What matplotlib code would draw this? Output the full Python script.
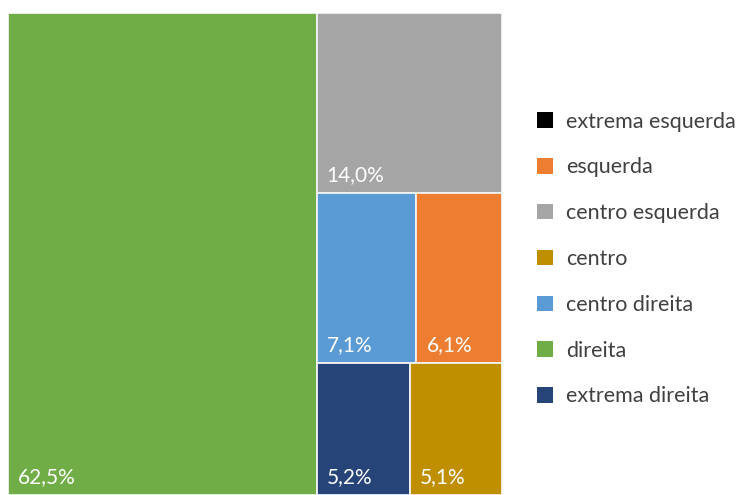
import matplotlib
matplotlib.use("Agg")
import matplotlib.pyplot as plt
from matplotlib.patches import Rectangle, Patch

# Dados
categorias = ['extrema esquerda', 'esquerda', 'centro esquerda', 'centro',
              'centro direita', 'direita', 'extrema direita']
valores = [0.0, 6.1, 14.0, 5.1, 7.1, 62.5, 5.2]
cores = ['#000000', '#ED7D31', '#A5A5A5', '#BF8F00',
         '#5B9BD5', '#70AD47', '#264478']

# tamanho da área do treemap (em pixels)
W, H = 494, 482


def pior(linha, lado):
    s = sum(linha)
    return max(max(lado ** 2 * r / s ** 2, s ** 2 / (lado ** 2 * r)) for r in linha)


def squarify(areas, x, y, w, h):
    # algoritmo squarified (origem no canto superior esquerdo)
    rects = []
    resto = list(areas)
    while resto:
        lado = min(w, h)
        linha = [resto[0]]
        i = 1
        while i < len(resto) and pior(linha + [resto[i]], lado) <= pior(linha, lado):
            linha.append(resto[i])
            i += 1
        resto = resto[i:]
        s = sum(linha)
        if w >= h:
            cw = s / h
            yy = y
            for a in linha:
                rects.append((x, yy, cw, a / cw))
                yy += a / cw
            x += cw
            w -= cw
        else:
            rh = s / w
            xx = x
            for a in linha:
                rects.append((xx, y, a / rh, rh))
                xx += a / rh
            y += rh
            h -= rh
    return rects


itens = sorted([(v, c) for v, c in zip(valores, cores) if v > 0], key=lambda t: -t[0])
total = sum(v for v, _ in itens)
areas = [v * W * H / total for v, _ in itens]
rects = squarify(areas, 0, 0, W, H)

fig = plt.figure(figsize=(7.38, 4.95), dpi=100)
ax = fig.add_axes([8 / 738, 0, W / 738, H / 495])
ax.set_xlim(0, W)
ax.set_ylim(H, 0)
ax.axis('off')

for (v, c), (x, y, w, h) in zip(itens, rects):
    ax.add_patch(Rectangle((x, y), w, h, facecolor=c, edgecolor='#f2f2f2', linewidth=1.3))
    ax.text(x + 10, y + h - 8, f"{v:.1f}%".replace('.', ','), color='white',
            fontsize=15, family='Lato', va='bottom', ha='left')

handles = [Patch(facecolor=c, edgecolor='none') for c in cores]
fig.legend(handles, categorias, loc='center left', bbox_to_anchor=(529 / 738, 1 - 259 / 495),
           frameon=False, prop={'family': 'Lato', 'size': 15.5}, labelcolor='#404040',
           handlelength=0.74, handleheight=0.74, handletextpad=0.6, labelspacing=1.2,
           borderaxespad=0, borderpad=0.38)

fig.savefig('out.png', dpi=100)
